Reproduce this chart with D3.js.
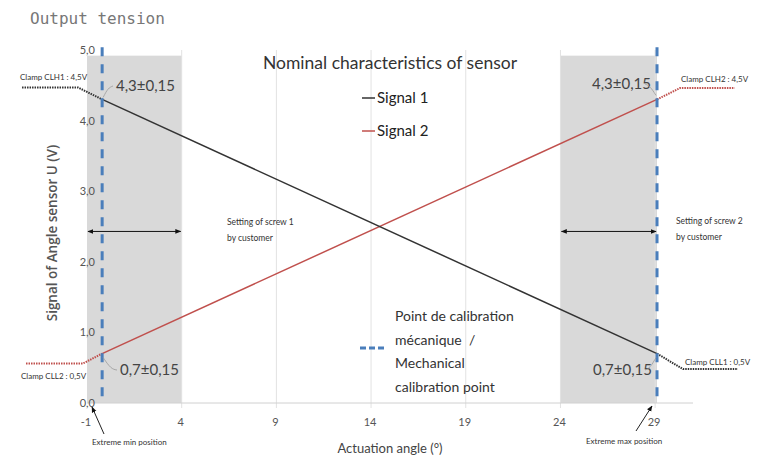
<!DOCTYPE html>
<html>
<head>
<meta charset="utf-8">
<script src="https://cdn.jsdelivr.net/npm/d3@7"></script>
<style>
  body { margin: 0; background: #fff; }
  svg { font-family: Lato, "Open Sans", sans-serif; }
</style>
</head>
<body>
<div id="chart"></div>
<script>
// data
var xTicks = [-1, 4, 9, 14, 19, 24, 29];
var yTicks = [0, 1, 2, 3, 4, 5];
var gridX = [4, 9, 14, 19, 24, 29];
var calibX = [-0.2, 29.1];          // mechanical calibration points
var zones = [[-1, 4], [24, 29.1]];  // screw setting ranges (grey)
var signal1 = [[-0.2, 4.3], [29.1, 0.7]];
var signal2 = [[-0.2, 0.7], [29.1, 4.3]];
var clampS1Left = [[-4.43, 4.47], [-1.48, 4.47], [-0.2, 4.3]];
var clampS1Right = [[29.1, 0.7], [30.47, 0.48], [33.37, 0.48]];
var clampS2Left = [[-4.22, 0.56], [-1.21, 0.56], [-0.2, 0.7]];
var clampS2Right = [[29.1, 4.3], [30.31, 4.46], [33.2, 4.46]];

var width = 766, height = 459;

var svg = d3.select("#chart")
  .append("svg")
    .attr("width", width)
    .attr("height", height);

var x = d3.scaleLinear().domain([-1, 31]).range([87, 693]);
var y = d3.scaleLinear().domain([0, 5]).range([403, 50]);

var defs = svg.append("defs");
defs.append("marker")
    .attr("id", "arr")
    .attr("viewBox", "0 0 10 10")
    .attr("refX", 9).attr("refY", 5)
    .attr("markerWidth", 6).attr("markerHeight", 6)
    .attr("orient", "auto-start-reverse")
  .append("path")
    .attr("d", "M0,1 L10,5 L0,9 z")
    .attr("fill", "#111");

// "Output tension" header
svg.append("text")
    .attr("x", 30).attr("y", 24)
    .style("font-family", "'DejaVu Sans Mono', monospace")
    .style("font-size", "16px")
    .attr("fill", "#777")
    .text("Output tension");

// grey zones
svg.append("g").selectAll("rect")
  .data(zones)
  .enter().append("rect")
    .attr("x", function(d) { return x(d[0]); })
    .attr("y", y(4.92))
    .attr("width", function(d) { return x(d[1]) - x(d[0]); })
    .attr("height", y(0) - y(4.92))
    .attr("fill", "#d9d9d9");

// vertical grid
svg.append("g").selectAll("line")
  .data(gridX)
  .enter().append("line")
    .attr("x1", function(d) { return x(d); })
    .attr("x2", function(d) { return x(d); })
    .attr("y1", y(5)).attr("y2", y(0) + 5)
    .attr("stroke", "#e2e2e2")
    .attr("stroke-width", 1);

// x axis line
svg.append("line")
    .attr("x1", x(-1)).attr("x2", x(31))
    .attr("y1", y(0)).attr("y2", y(0))
    .attr("stroke", "#d0d0d0");

// tick labels
svg.append("g").selectAll("text")
  .data(yTicks)
  .enter().append("text")
    .attr("x", 95)
    .attr("y", function(d) { return y(d) + 4; })
    .attr("text-anchor", "end")
    .style("font-size", "11px")
    .attr("fill", "#555")
    .text(function(d) { return d3.format(".1f")(d).replace(".", ","); });

svg.append("g").selectAll("text")
  .data(xTicks)
  .enter().append("text")
    .attr("x", function(d) { return x(d) - 1; })
    .attr("y", 426)
    .attr("text-anchor", "middle")
    .style("font-size", "11px")
    .attr("fill", "#555")
    .text(function(d) { return d; });

// axis titles
svg.append("text")
    .attr("transform", "translate(57,233) rotate(-90)")
    .attr("text-anchor", "middle")
    .style("font-family", "'Open Sans', sans-serif")
    .style("font-size", "13.5px")
    .style("font-weight", "600")
    .attr("fill", "#555")
    .text("Signal of Angle sensor U (V)");

svg.append("text")
    .attr("x", 390).attr("y", 453)
    .attr("text-anchor", "middle")
    .style("font-size", "13px")
    .attr("fill", "#444")
    .text("Actuation angle (°)");

// chart title
svg.append("text")
    .attr("x", 390).attr("y", 69)
    .attr("text-anchor", "middle")
    .style("font-size", "17.5px")
    .attr("fill", "#333")
    .text("Nominal characteristics of sensor");

var line = d3.line()
  .x(function(d) { return x(d[0]); })
  .y(function(d) { return y(d[1]); });

// clamp extensions (dotted)
[[clampS1Left, "#333"], [clampS1Right, "#333"], [clampS2Left, "#c0504d"], [clampS2Right, "#c0504d"]]
  .forEach(function(c) {
    svg.append("path")
        .datum(c[0])
        .attr("d", line)
        .attr("fill", "none")
        .attr("stroke", c[1])
        .attr("stroke-width", 2)
        .attr("stroke-dasharray", "1.5,1");
  });

// signals
svg.append("path").datum(signal2)
    .attr("d", line).attr("fill", "none")
    .attr("stroke", "#c0504d").attr("stroke-width", 1.5);
svg.append("path").datum(signal1)
    .attr("d", line).attr("fill", "none")
    .attr("stroke", "#333").attr("stroke-width", 1.5);

// calibration dashed lines
svg.append("g").selectAll("line")
  .data(calibX)
  .enter().append("line")
    .attr("x1", function(d) { return x(d); })
    .attr("x2", function(d) { return x(d); })
    .attr("y1", y(5.04)).attr("y2", y(0))
    .attr("stroke", "#4a7ebb")
    .attr("stroke-width", 3)
    .attr("stroke-dasharray", "9,8");

// legend
var legend = [["Signal 1", "#333", 98], ["Signal 2", "#c0504d", 131]];
legend.forEach(function(l) {
  svg.append("line")
      .attr("x1", 362).attr("x2", 375)
      .attr("y1", l[2]).attr("y2", l[2])
      .attr("stroke", l[1]).attr("stroke-width", 1.5);
  svg.append("text")
      .attr("x", 377).attr("y", l[2] + 5)
      .style("font-size", "15px")
      .attr("fill", "#222")
      .text(l[0]);
});

svg.append("line")
    .attr("x1", 360).attr("x2", 386)
    .attr("y1", 348).attr("y2", 348)
    .attr("stroke", "#4a7ebb").attr("stroke-width", 3)
    .attr("stroke-dasharray", "6,3");
["Point de calibration", "mécanique  /", "Mechanical", "calibration point"].forEach(function(t, i) {
  svg.append("text")
      .attr("x", 395).attr("y", 321 + i * 23.5)
      .style("font-size", "14px")
      .attr("fill", "#333")
      .style("white-space", "pre")
      .text(t);
});

// tolerance labels with leader lines
var tol = [
  {t: "4,3±0,15", lx: 116, ly: 91, p: [[x(-0.2) + 1, y(4.3) - 2], [108, 88], [113, 86]]},
  {t: "4,3±0,15", lx: 592, ly: 89, p: [[x(29.1) - 1, y(4.3) - 4], [650, 86], [645, 84]]},
  {t: "0,7±0,15", lx: 120, ly: 375, p: [[x(-0.2) + 1, y(0.7) + 4], [111, 369], [117, 370]]},
  {t: "0,7±0,15", lx: 593, ly: 375, p: [[x(29.1) - 1, y(0.7) + 4], [650, 368], [645, 370]]}
];
tol.forEach(function(d) {
  svg.append("text")
      .attr("x", d.lx).attr("y", d.ly)
      .style("font-size", "15px")
      .attr("fill", "#444")
      .text(d.t);
  svg.append("path")
      .attr("d", d3.line().curve(d3.curveBasis)(d.p))
      .attr("fill", "none")
      .attr("stroke", "#999")
      .attr("stroke-width", 0.8);
});

// clamp labels
var clampLabels = [
  ["Clamp CLH1 : 4,5V", 20, 80],
  ["Clamp CLH2 : 4,5V", 681, 82],
  ["Clamp CLL2 : 0,5V", 21, 379],
  ["Clamp CLL1 : 0,5V", 685, 365]
];
clampLabels.forEach(function(c) {
  svg.append("text")
      .attr("x", c[1]).attr("y", c[2])
      .style("font-size", "8px")
      .attr("fill", "#333")
      .text(c[0]);
});

// screw setting arrows
[[-1, 4], [24, 29.1]].forEach(function(a) {
  svg.append("line")
      .attr("x1", x(a[0]) + 1).attr("x2", x(a[1]) - 1)
      .attr("y1", y(2.43)).attr("y2", y(2.43))
      .attr("stroke", "#111").attr("stroke-width", 1)
      .attr("marker-start", "url(#arr)")
      .attr("marker-end", "url(#arr)");
});
[["Setting of screw 1", 227, 225], ["by customer", 227, 241],
 ["Setting of screw 2", 676, 224], ["by customer", 676, 240]].forEach(function(s) {
  svg.append("text")
      .attr("x", s[1]).attr("y", s[2])
      .style("font-size", "8.5px")
      .attr("fill", "#333")
      .text(s[0]);
});

// extreme positions
var extremes = [
  {t: "Extreme min position", tx: 92, ty: 445, from: [104, 434], to: [92, 407]},
  {t: "Extreme max position", tx: 586, ty: 444, from: [636, 431], to: [652, 406]}
];
extremes.forEach(function(e) {
  svg.append("line")
      .attr("x1", e.from[0]).attr("y1", e.from[1])
      .attr("x2", e.to[0]).attr("y2", e.to[1])
      .attr("stroke", "#222").attr("stroke-width", 1)
      .attr("marker-end", "url(#arr)");
  svg.append("text")
      .attr("x", e.tx).attr("y", e.ty)
      .style("font-size", "8px")
      .attr("fill", "#333")
      .text(e.t);
});
</script>
</body>
</html>
